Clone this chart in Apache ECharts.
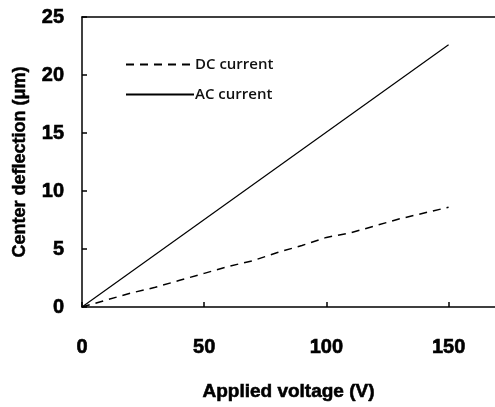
<!DOCTYPE html>
<html><head><meta charset="utf-8">
<script src="https://cdn.jsdelivr.net/npm/echarts@6/dist/echarts.min.js"></script>
<style>html,body{margin:0;padding:0;background:#fff}#c{width:495px;height:407px}</style>
</head><body><div id="c"></div>
<script>
const voltage = [0, 10, 20, 30, 40, 50, 60, 70, 80, 90, 100, 110, 120, 130, 140, 150];
const dcCurrent = [0, 0.6, 1.2, 1.7, 2.3, 2.9, 3.5, 4.0, 4.7, 5.3, 6.0, 6.4, 7.0, 7.6, 8.1, 8.6];
const acVoltage = [0, 150];
const acCurrent = [0, 22.6];
const seriesNames = ['DC current', 'AC current'];
const xTitle = 'Applied voltage (V)';
const yTitle = 'Center deflection (μm)';

const tickFont = {fontFamily: 'Liberation Sans, sans-serif', fontWeight: 'bold', fontSize: 20, color: '#000', textBorderColor: '#000', textBorderWidth: 0.6};
const chart = echarts.init(document.getElementById('c'));
chart.setOption({
  animation: false,
  grid: {left: 82, right: 0, top: 17, bottom: 100, outerBoundsMode: 'none', containLabel: false},
  legend: {
    left: 120, top: 52, orient: 'vertical', itemGap: 15, itemWidth: 68, itemHeight: 16,
    itemStyle: {opacity: 0},
    textStyle: {fontFamily: 'Open Sans, sans-serif', fontWeight: 600, fontSize: 15, color: '#111', padding: [0, 0, 0, -4]},
    data: seriesNames
  },
  xAxis: [{
    type: 'value', min: 0, max: 169, interval: 50,
    name: xTitle, nameLocation: 'middle', nameGap: 75,
    nameTextStyle: {fontFamily: 'Liberation Sans, sans-serif', fontWeight: 'bold', fontSize: 19, color: '#000', textBorderColor: '#000', textBorderWidth: 0.6},
    axisLine: {lineStyle: {color: '#000', width: 1.5}},
    axisTick: {inside: true, length: 5, lineStyle: {color: '#000', width: 1.5}},
    axisLabel: Object.assign({margin: 30, showMaxLabel: false}, tickFont),
    splitLine: {show: false}
  }, {
    type: 'value', min: 0, max: 169, position: 'top',
    axisLine: {show: true, onZero: false, lineStyle: {color: '#000', width: 1.5}},
    axisTick: {show: false}, axisLabel: {show: false}, splitLine: {show: false}
  }],
  yAxis: {
    type: 'value', min: 0, max: 25, interval: 5,
    name: yTitle, nameLocation: 'middle', nameGap: 53, nameRotate: 90,
    nameTextStyle: {fontFamily: 'Liberation Sans, sans-serif', fontWeight: 'bold', fontSize: 18, color: '#000', textBorderColor: '#000', textBorderWidth: 0.5},
    axisLine: {show: true, lineStyle: {color: '#000', width: 1.5}},
    axisTick: {show: true, inside: true, length: 5, lineStyle: {color: '#000', width: 1.5}},
    axisLabel: Object.assign({margin: 18}, tickFont),
    splitLine: {show: false}
  },
  series: [{
    name: seriesNames[0], type: 'line', showSymbol: false, symbol: 'none',
    data: voltage.map((v, i) => [v, dcCurrent[i]]),
    lineStyle: {color: '#000', width: 1.5, type: [8, 6]},
    itemStyle: {color: '#000'}
  }, {
    name: seriesNames[1], type: 'line', showSymbol: false, symbol: 'none',
    data: acVoltage.map((v, i) => [v, acCurrent[i]]),
    lineStyle: {color: '#000', width: 1.2, type: 'solid'},
    itemStyle: {color: '#000'}
  }]
});
</script></body></html>
